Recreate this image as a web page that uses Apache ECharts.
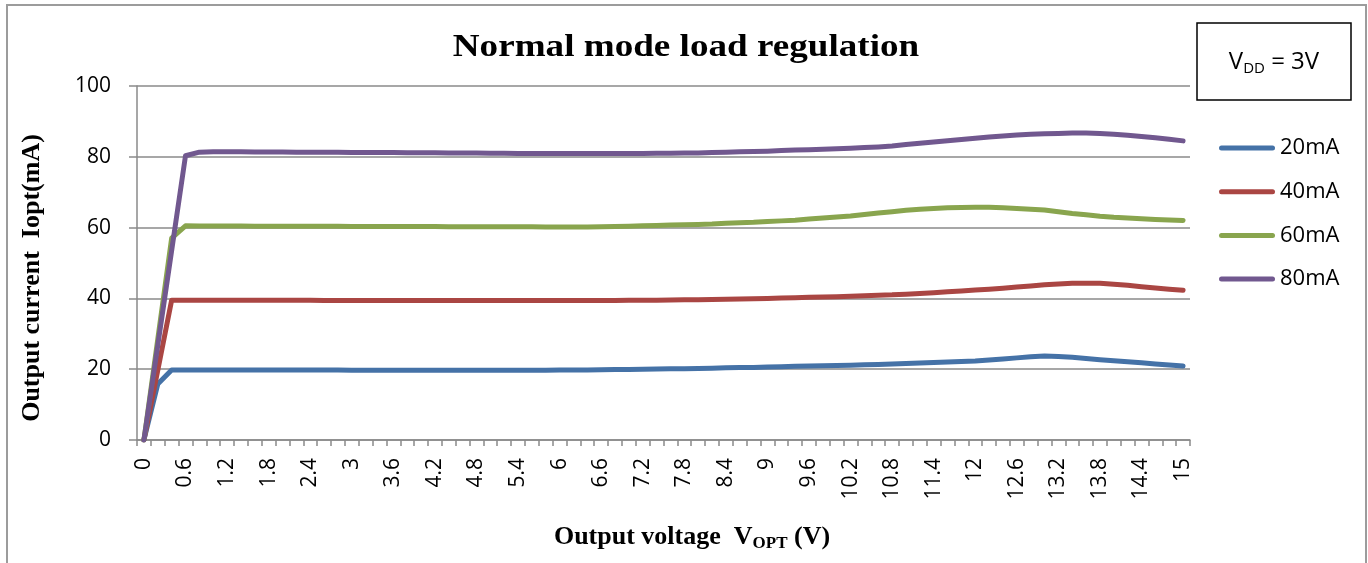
<!DOCTYPE html>
<html>
<head>
<meta charset="utf-8">
<title>Normal mode load regulation</title>
<script src="https://cdn.jsdelivr.net/npm/echarts@6/dist/echarts.min.js"></script>
<style>
    html, body { margin: 0; padding: 0; background: #ffffff; }
    #chart { width: 1368px; height: 563px; }
</style>
</head>
<body>
<div id="chart"></div>
<script>
// output voltage (V), one category every 0.2 V
var volts = ['0','0.2','0.4','0.6','0.8','1','1.2','1.4','1.6','1.8',
    '2','2.2','2.4','2.6','2.8','3','3.2','3.4','3.6','3.8',
    '4','4.2','4.4','4.6','4.8','5','5.2','5.4','5.6','5.8',
    '6','6.2','6.4','6.6','6.8','7','7.2','7.4','7.6','7.8',
    '8','8.2','8.4','8.6','8.8','9','9.2','9.4','9.6','9.8',
    '10','10.2','10.4','10.6','10.8','11','11.2','11.4','11.6','11.8',
    '12','12.2','12.4','12.6','12.8','13','13.2','13.4','13.6','13.8',
    '14','14.2','14.4','14.6','14.8','15'];

var seriesNames = ['20mA', '40mA', '60mA', '80mA'];

// output current Iopt (mA)
var i20 = [0, 15.8, 19.8,
    19.8, 19.8, 19.8, 19.8, 19.8, 19.78, 19.78, 19.76, 19.76, 19.75,
    19.74, 19.74, 19.73, 19.73, 19.72, 19.72, 19.72, 19.71, 19.71, 19.7,
    19.7, 19.7, 19.7, 19.7, 19.7, 19.7, 19.72,
    19.75, 19.8, 19.8, 19.85, 19.9, 19.95, 20.0, 20.05, 20.1, 20.15,
    20.2, 20.3, 20.4, 20.45, 20.5, 20.6, 20.7, 20.8, 20.9, 21.0,
    21.05, 21.15, 21.25, 21.35, 21.45, 21.6, 21.75, 21.9, 22.05, 22.2,
    22.35, 22.6, 22.9, 23.2, 23.5, 23.7, 23.6, 23.35, 23.0, 22.7,
    22.4, 22.1, 21.8, 21.5, 21.2, 20.9];

var i40 = [0, 19.7, 39.5,
    39.5, 39.5, 39.5, 39.5, 39.5, 39.49, 39.48, 39.47, 39.46, 39.45,
    39.44, 39.43, 39.42, 39.41, 39.4, 39.4, 39.4, 39.4, 39.4, 39.4, 39.4,
    39.4, 39.4, 39.4, 39.4, 39.4, 39.4, 39.4, 39.4, 39.4, 39.4, 39.42,
    39.45, 39.5, 39.5, 39.55, 39.6,
    39.65, 39.7, 39.75, 39.8, 39.9, 40.0, 40.1, 40.2, 40.3, 40.4,
    40.5, 40.6, 40.75, 40.9, 41.0, 41.2, 41.4, 41.6, 41.85, 42.1,
    42.35, 42.6, 42.9, 43.2, 43.5, 43.85, 44.1, 44.25, 44.3, 44.3,
    44.0, 43.7, 43.3, 42.95, 42.6, 42.3];

var i60 = [0, 28.5, 57.0, 60.5,
    60.45, 60.44, 60.43, 60.42, 60.41, 60.4, 60.39,
    60.38, 60.37, 60.36, 60.35, 60.34, 60.33, 60.32, 60.31, 60.3, 60.29,
    60.28, 60.27, 60.26, 60.25, 60.24, 60.23, 60.22, 60.21, 60.2, 60.2, 60.2, 60.2, 60.22,
    60.3, 60.4, 60.5, 60.6, 60.7, 60.8,
    60.9, 61.0, 61.2, 61.4, 61.5, 61.7, 61.9, 62.1, 62.4, 62.7,
    63.0, 63.3, 63.7, 64.1, 64.5, 64.9, 65.2, 65.4, 65.6, 65.7,
    65.75, 65.75, 65.6, 65.4, 65.2, 65.0, 64.5, 64.0, 63.6, 63.2,
    62.9, 62.7, 62.5, 62.3, 62.15, 62.0];

var i80 = [0, 26.8, 53.5, 80.3, 81.3,
    81.4, 81.4, 81.4, 81.38, 81.36, 81.34, 81.32, 81.3,
    81.28, 81.26, 81.24, 81.22, 81.2, 81.18, 81.16, 81.14, 81.12, 81.1,
    81.07, 81.04, 81.01, 80.98, 80.96, 80.94, 80.92, 80.9, 80.9, 80.9, 80.9,
    80.9, 80.95, 80.95, 81.0, 81.0, 81.05,
    81.1, 81.2, 81.3, 81.4, 81.5, 81.6, 81.75, 81.9, 82.0, 82.15,
    82.3, 82.45, 82.6, 82.8, 83.05, 83.5, 83.85, 84.2, 84.55, 84.9,
    85.25, 85.6, 85.9, 86.15, 86.35, 86.5, 86.6, 86.7, 86.7, 86.6,
    86.4, 86.1, 85.75, 85.35, 84.95, 84.5];

var yTicks = { min: 0, max: 100, interval: 20 };

var colors = ['#4572A7', '#AA4643', '#89A54E', '#71588F'];
var axisGray = '#8a8a8a';
var sans = '"Open Sans", "Noto Sans", sans-serif';
var serif = '"Liberation Serif", "DejaVu Serif", serif';

// thick line with round ends for the legend keys
var legendKey = 'path://M2.5,0 L53.5,0 A2.5,2.5 0 0 1 53.5,5 L2.5,5 A2.5,2.5 0 0 1 2.5,0 Z';

var myChart = echarts.init(document.getElementById('chart'), null, { renderer: 'canvas' });

function lineSeries(name, data, idx) {
    return {
        name: name,
        type: 'line',
        data: data,
        symbol: 'none',
        showSymbol: false,
        smooth: false,
        lineStyle: { width: 5, color: colors[idx], cap: 'round', join: 'round' },
        itemStyle: { color: colors[idx] },
        emphasis: { disabled: true }
    };
}

var option = {
    animation: false,
    backgroundColor: '#ffffff',
    grid: { left: 137, right: 178, top: 86, bottom: 123, containLabel: false },
    legend: {
        orient: 'vertical',
        left: 1214,
        top: 132,
        icon: legendKey,
        itemWidth: 56,
        itemHeight: 22,
        itemGap: 21.7,
        data: seriesNames,
        textStyle: { fontFamily: sans, fontSize: 22, color: '#000', lineHeight: 22 }
    },
    xAxis: {
        type: 'category',
        data: volts,
        boundaryGap: true,
        axisLine: { lineStyle: { color: axisGray, width: 1.5 } },
        axisTick: { show: true, interval: 0, length: 6, lineStyle: { color: axisGray, width: 1.5 } },
        axisLabel: {
            interval: 2,
            rotate: 90,
            margin: 18,
            fontFamily: sans,
            fontSize: 21,
            color: '#000'
        },
        splitLine: { show: false }
    },
    yAxis: {
        type: 'value',
        min: yTicks.min,
        max: yTicks.max,
        interval: yTicks.interval,
        axisLine: { show: true, lineStyle: { color: axisGray, width: 1.5 } },
        axisTick: { show: true, length: 8, lineStyle: { color: axisGray, width: 1.5 } },
        axisLabel: { margin: 26, fontFamily: sans, fontSize: 21, color: '#000' },
        splitLine: { show: true, lineStyle: { color: axisGray, width: 1.5 } }
    },
    graphic: [
        {
            // outer chart frame
            type: 'rect',
            silent: true,
            shape: { x: 7, y: 5, width: 1359, height: 575 },
            style: { fill: 'none', stroke: '#9c9c9c', lineWidth: 2 }
        },
        {
            type: 'text',
            x: 686,
            y: 48,
            scaleX: 1.16,
            style: {
                text: 'Normal mode load regulation',
                x: 0, y: 0,
                align: 'center',
                verticalAlign: 'middle',
                font: 'bold 32px ' + serif,
                fill: '#000'
            }
        },
        {
            type: 'text',
            x: 32,
            y: 278,
            rotation: Math.PI / 2,
            style: {
                text: 'Output current  Iopt(mA)',
                x: 0, y: 0,
                align: 'center',
                verticalAlign: 'middle',
                font: 'bold 26px ' + serif,
                fill: '#000'
            }
        },
        {
            type: 'text',
            x: 692,
            y: 537,
            style: {
                text: '{a|Output voltage  V}{b|OPT}{a| (V)}',
                x: 0, y: 0,
                align: 'center',
                verticalAlign: 'middle',
                fill: '#000',
                rich: {
                    a: { font: 'bold 26px ' + serif, lineHeight: 30 },
                    b: { font: 'bold 17px ' + serif, lineHeight: 20, verticalAlign: 'bottom' }
                }
            }
        },
        {
            // supply voltage box
            type: 'rect',
            shape: { x: 1197, y: 23, width: 154, height: 77 },
            style: { fill: '#fff', stroke: '#000', lineWidth: 1.5 }
        },
        {
            type: 'text',
            x: 1274,
            y: 62,
            style: {
                text: '{a|V}{b|DD}{a| = 3V}',
                x: 0, y: 0,
                align: 'center',
                verticalAlign: 'middle',
                fill: '#000',
                rich: {
                    a: { font: '24px ' + sans, lineHeight: 28 },
                    b: { font: '15px ' + sans, lineHeight: 14, verticalAlign: 'bottom' }
                }
            }
        }
    ],
    series: [
        lineSeries(seriesNames[0], i20, 0),
        lineSeries(seriesNames[1], i40, 1),
        lineSeries(seriesNames[2], i60, 2),
        lineSeries(seriesNames[3], i80, 3)
    ]
};

myChart.setOption(option);
</script>
</body>
</html>
